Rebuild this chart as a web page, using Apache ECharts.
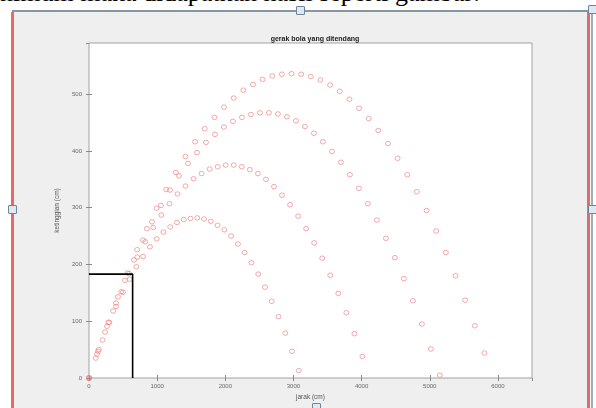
<!DOCTYPE html>
<html>
<head>
<meta charset="utf-8">
<script src="https://cdn.jsdelivr.net/npm/echarts@6/dist/echarts.min.js"></script>
<style>
  html, body { margin:0; padding:0; background:#fff; }
  #page { position:relative; width:596px; height:408px; overflow:hidden; background:#fff; }
  .abs { position:absolute; }
  #topText { left:0; top:-20px; font-family:"Liberation Serif","Times New Roman",serif; font-size:26px; color:#000; white-space:nowrap; line-height:26px; }
  #fig { left:13px; top:11px; width:577px; height:397px; background:#efefef; }
  #frameTop { left:12px; top:10px; width:582px; height:1.5px; background:#8796a3; }
  #frameRight { left:591px; top:10px; width:2px; height:398px; background:#9fadb8; }
  #redL { left:11px; top:12px; width:3px; height:396px; background:#e36b6b; }
  #redR { left:587px; top:12px; width:3px; height:396px; background:#e36b6b; }
  .handle { width:7px; height:7px; background:#dde8f2; border:1px solid #6f8597; border-radius:1px; }
  #chart { position:absolute; left:0; top:0; width:596px; height:408px; }
</style>
</head>
<body>
<div id="page">
  <div id="topText" class="abs">nimum maka didapatkan hasil seperti gambar:</div>
  <div id="fig" class="abs"></div>
  <div id="frameTop" class="abs"></div>
  <div id="frameRight" class="abs"></div>
  <div id="redL" class="abs"></div>
  <div id="redR" class="abs"></div>
  <div class="abs handle" style="left:296px; top:6px;"></div>
  <div class="abs handle" style="left:588px; top:5px;"></div>
  <div class="abs handle" style="left:588px; top:205px;"></div>
  <div class="abs handle" style="left:8px; top:205px;"></div>
  <div class="abs handle" style="left:312px; top:403px;"></div>
  <div id="chart"></div>
</div>
<script>
// ---- data ----
const judul = 'gerak bola yang ditendang';
const labelX = 'jarak (cm)';
const labelY = 'ketinggian (cm)';
const xTicks = [0, 1000, 2000, 3000, 4000, 5000, 6000];
const yTicks = [0, 100, 200, 300, 400, 500];

const bola1 = [[0,0],[99,35],[199,67],[298,98],[397,126],[497,151],[596,174],[695,196],[794,214],[894,231],[993,245],[1092,257],[1192,266],[1291,274],[1390,279],[1490,281],[1589,282],[1688,280],[1787,276],[1887,269],[1986,261],[2085,250],[2185,236],[2284,221],[2383,203],[2483,183],[2582,160],[2681,135],[2780,108],[2880,79],[2979,47],[3078,13]];

const bola2 = [[0,0],[118,42],[236,81],[354,118],[472,152],[590,184],[708,213],[826,240],[944,265],[1062,287],[1180,307],[1298,324],[1416,338],[1534,351],[1652,360],[1770,368],[1888,372],[2006,375],[2124,375],[2242,372],[2360,367],[2478,360],[2596,350],[2714,337],[2832,322],[2950,305],[3068,285],[3186,263],[3304,238],[3422,211],[3540,181],[3658,149],[3776,115],[3894,78],[4012,38]];

const bola3 = [[0,0],[132,47],[264,91],[396,132],[528,172],[660,208],[792,243],[924,275],[1056,304],[1188,331],[1320,356],[1452,378],[1584,397],[1716,415],[1848,429],[1980,442],[2112,452],[2244,459],[2376,464],[2508,467],[2640,467],[2772,465],[2904,460],[3036,453],[3168,443],[3300,431],[3432,416],[3564,399],[3696,380],[3828,358],[3960,334],[4092,307],[4224,278],[4356,246],[4488,212],[4620,175],[4752,136],[4884,95],[5016,51],[5148,5]];

const bola4 = [[0,0],[142,50],[283,98],[425,143],[566,185],[708,226],[849,263],[991,299],[1132,332],[1274,362],[1415,390],[1557,416],[1698,439],[1840,459],[1981,477],[2123,493],[2264,507],[2406,517],[2547,526],[2689,532],[2830,535],[2972,536],[3113,535],[3255,531],[3396,525],[3538,516],[3679,505],[3821,491],[3962,475],[4104,457],[4245,436],[4387,413],[4528,387],[4670,358],[4811,328],[4953,295],[5094,259],[5236,221],[5377,180],[5519,137],[5660,92],[5802,44]];

const garisBatas = [[0,183],[640,183],[640,0]];

const xMax = 6500;
const yMax = 590;
// ---------------------------------------------

const chart = echarts.init(document.getElementById('chart'), null, {renderer:'canvas'});
const font = 'Liberation Sans, Arial, sans-serif';
const tickStep = xTicks[1] - xTicks[0];
const yStep = yTicks[1] - yTicks[0];
const plain = v => String(Math.round(v));

function xAxisDef(pos, showLabel) {
  return {
    type:'value', position:pos, min:xTicks[0], max:xMax, interval:tickStep,
    axisLine:{show:false},
    axisTick:{show:true, inside:true, length:3, lineStyle:{color:'#8a8a8a', width:1}},
    splitLine:{show:false},
    axisLabel:{show:showLabel, showMaxLabel:false, fontSize:6, color:'#666', margin:5, fontFamily:font, formatter:plain},
    name: showLabel ? labelX : '', nameLocation:'middle', nameGap:15,
    nameTextStyle:{fontSize:6.5, color:'#555', fontFamily:font}
  };
}
function yAxisDef(pos, showLabel) {
  return {
    type:'value', position:pos, min:yTicks[0], max:yMax, interval:yStep,
    axisLine:{show:false},
    axisTick:{show:true, inside:true, length:3, lineStyle:{color:'#8a8a8a', width:1}},
    splitLine:{show:false},
    axisLabel:{show:showLabel, showMaxLabel:false, fontSize:6, color:'#666', margin:7, fontFamily:font, formatter:plain},
    name: showLabel ? labelY : '', nameLocation:'middle', nameGap:22,
    nameTextStyle:{fontSize:6.5, color:'#555', fontFamily:font}
  };
}
function sc(data) {
  return {
    type:'scatter', data:data, xAxisIndex:0, yAxisIndex:0,
    symbol:'circle', symbolSize:[5,4.5],
    itemStyle:{color:'rgba(255,255,255,0)', borderColor:'#f08080', borderWidth:0.85},
    silent:true, z:3
  };
}

chart.setOption({
  animation:false,
  backgroundColor:'transparent',
  title:{
    text:judul, left:310, top:31, textAlign:'center',
    textStyle:{fontSize:7, fontWeight:'bold', color:'#222', fontFamily:font}
  },
  grid:{
    left:89, right:64, top:43, bottom:30,
    show:true, backgroundColor:'#ffffff', borderColor:'#a3a3a3', borderWidth:1
  },
  xAxis:[xAxisDef('bottom', true), xAxisDef('top', false)],
  yAxis:[yAxisDef('left', true), yAxisDef('right', false)],
  series:[
    sc(bola1), sc(bola2), sc(bola3), sc(bola4),
    {
      type:'line', data:garisBatas, xAxisIndex:0, yAxisIndex:0,
      symbol:'none', lineStyle:{color:'#000', width:1.6}, z:5, silent:true
    }
  ]
});
</script>
</body>
</html>
